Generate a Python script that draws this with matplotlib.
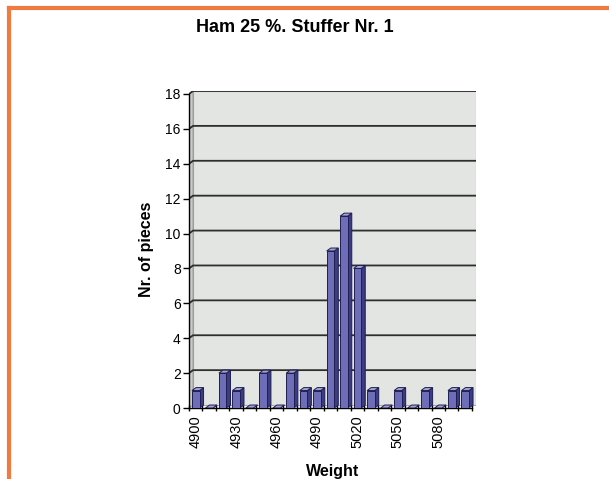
import matplotlib
matplotlib.use("Agg")
import matplotlib.pyplot as plt
from matplotlib.patches import Polygon, Rectangle
import numpy as np

plt.rcParams['font.family'] = ['Liberation Sans', 'DejaVu Sans']

# Weight classes (g) and number of pieces in each class
weights = [4900, 4910, 4920, 4930, 4940, 4950, 4960, 4970, 4980, 4990, 5000,
           5010, 5020, 5030, 5040, 5050, 5060, 5070, 5080, 5090, 5100]
pieces = [1, 0, 2, 1, 0, 2, 0, 2, 1, 1, 9, 11, 8, 1, 0, 1, 0, 1, 0, 1, 1]
y_ticks = [0, 2, 4, 6, 8, 10, 12, 14, 16, 18]
title = "Ham 25 %. Stuffer Nr. 1"

W, H = 609, 479
fig = plt.figure(figsize=(W / 100, H / 100), dpi=100)

# orange frame around the chart
fig.add_artist(plt.Line2D([9 / W, 9 / W], [0, 1 - 8 / H], color="#F07A40", lw=3))
fig.add_artist(plt.Line2D([9 / W, 1], [1 - 8 / H, 1 - 8 / H], color="#F07A40", lw=3))

ax = fig.add_axes([189 / W, 1 - 408 / H, (476 - 189) / W, (408 - 91) / H])
n = len(weights)
x = np.arange(n)
dx, dy = 0.3, 0.17      # pseudo 3D depth offset
w = 0.56
ymax = 18

ax.set_xlim(-0.5, n - 0.5 + dx)
ax.set_ylim(0, ymax + dy)
ax.set_facecolor("white")

# back wall and left wall
ax.add_patch(Rectangle((-0.5 + dx, dy), n, ymax, facecolor="#E3E5E3",
                       edgecolor="#A8A8A8", lw=0.8, zorder=0))
ax.add_patch(Polygon([(-0.5, 0), (-0.5 + dx, dy), (-0.5 + dx, ymax + dy), (-0.5, ymax)],
                     closed=True, facecolor="#C8CAC8", edgecolor="#909090", lw=0.6, zorder=0))
for t in y_ticks[1:]:
    ax.plot([-0.5, -0.5 + dx, n - 0.5 + dx], [t, t + dy, t + dy], color="#2E2E2E",
            lw=1.3, zorder=1)

front_c, side_c, top_c, edge_c = "#6E6EB8", "#3C3C82", "#A3A3D6", "#1E1E50"
for xi, v in zip(x, pieces):
    l, r = xi - w / 2, xi + w / 2
    ax.add_patch(Polygon([(r, 0), (r + dx, dy), (r + dx, v + dy), (r, v)], closed=True,
                         facecolor=side_c, edgecolor=edge_c, lw=0.7, zorder=3))
    ax.add_patch(Polygon([(l, v), (l + dx, v + dy), (r + dx, v + dy), (r, v)], closed=True,
                         facecolor=top_c, edgecolor=edge_c, lw=0.7, zorder=3))
    if v > 0:
        ax.add_patch(Rectangle((l, 0), w, v, facecolor=front_c, edgecolor=edge_c,
                               lw=0.7, zorder=3))

for s in ["top", "right"]:
    ax.spines[s].set_visible(False)
ax.spines["left"].set_bounds(0, ymax)
ax.spines["bottom"].set_bounds(-0.5, n - 0.5)
ax.spines["left"].set_linewidth(1.0)
ax.spines["bottom"].set_linewidth(1.0)

ax.set_yticks(y_ticks)
ax.set_yticklabels([str(t) for t in y_ticks], fontsize=10)
ax.tick_params(axis="y", length=4, width=1, pad=2)

ax.set_xticks(x[::3])
ax.set_xticklabels([str(v) for v in weights[::3]], rotation=90, fontsize=10.5)
ax.tick_params(axis="x", which="major", length=0, pad=5)
ax.set_xticks(np.arange(-0.5, n, 1), minor=True)
ax.tick_params(axis="x", which="minor", length=4, width=1, direction="inout")

ax.set_xlabel("Weight", fontsize=11.5, fontweight="bold", labelpad=12)
ax.set_ylabel("Nr. of pieces", fontsize=11.5, fontweight="bold", labelpad=8)
fig.text(295 / W, 1 - 27 / H, title, ha="center", va="center",
         fontsize=13, fontweight="bold")

fig.savefig("out.png", dpi=100)
